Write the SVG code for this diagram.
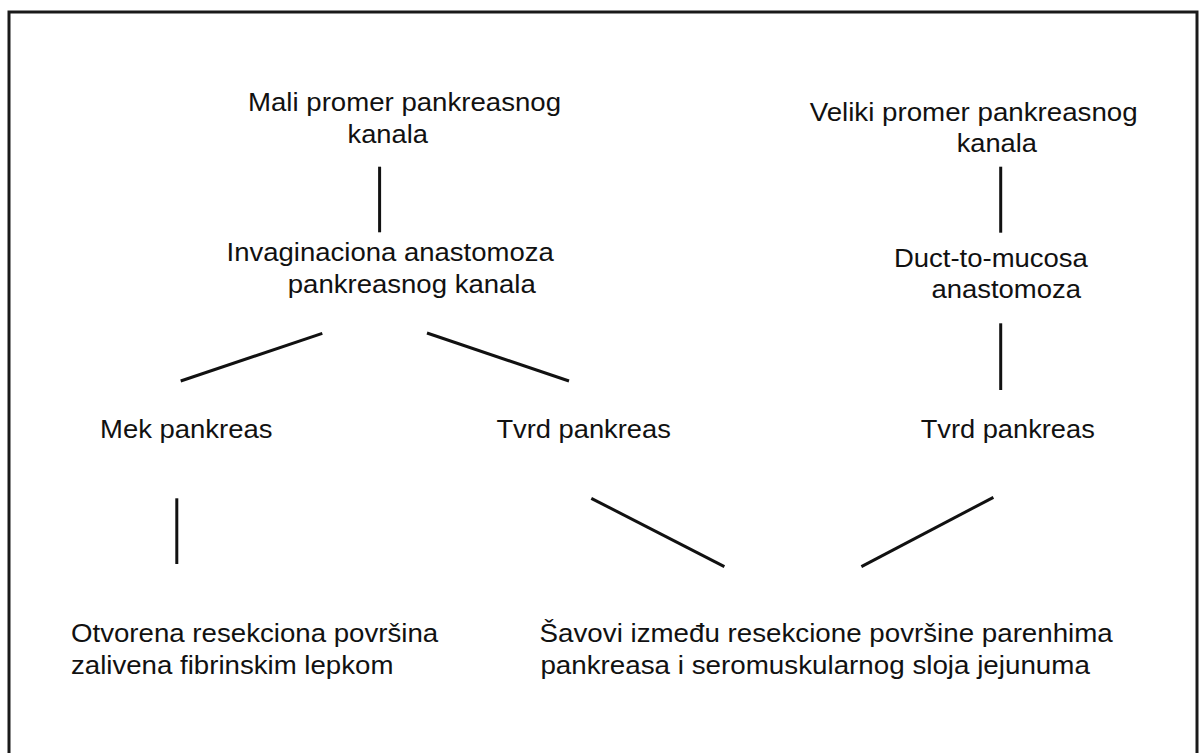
<svg xmlns="http://www.w3.org/2000/svg" width="1199" height="753" viewBox="0 0 1199 753">
<style>
.t{font-family:"Liberation Sans",Arial,sans-serif;font-size:25.5px;fill:#111;}
.c{stroke:#111;stroke-width:3;fill:none;stroke-linecap:butt;}
</style>
<rect x="0" y="0" width="1199" height="753" fill="#fff"/>
<rect id="frame" x="9" y="12" width="1188" height="800" fill="none" stroke="#1a1a1a" stroke-width="3"/>
<g id="n_mali">
<text class="t" x="248" y="111" textLength="313" lengthAdjust="spacingAndGlyphs">Mali promer pankreasnog</text>
<text class="t" x="347.5" y="143" textLength="80.4" lengthAdjust="spacingAndGlyphs">kanala</text>
</g>
<g id="n_invag">
<text class="t" x="226.6" y="261" textLength="327.2" lengthAdjust="spacingAndGlyphs">Invaginaciona anastomoza</text>
<text class="t" x="287.8" y="293.3" textLength="248" lengthAdjust="spacingAndGlyphs">pankreasnog kanala</text>
</g>
<g id="n_veliki">
<text class="t" x="809.7" y="120.7" textLength="328" lengthAdjust="spacingAndGlyphs">Veliki promer pankreasnog</text>
<text class="t" x="956.7" y="151.7" textLength="80.3" lengthAdjust="spacingAndGlyphs">kanala</text>
</g>
<g id="n_duct">
<text class="t" x="893.9" y="266.7" textLength="194" lengthAdjust="spacingAndGlyphs">Duct-to-mucosa</text>
<text class="t" x="931.4" y="297.8" textLength="149.6" lengthAdjust="spacingAndGlyphs">anastomoza</text>
</g>
<g id="n_mek">
<text class="t" x="100" y="437.5" textLength="172.5" lengthAdjust="spacingAndGlyphs">Mek pankreas</text>
</g>
<g id="n_tvrd1">
<text class="t" x="496.4" y="437.8" textLength="174.4" lengthAdjust="spacingAndGlyphs">Tvrd pankreas</text>
</g>
<g id="n_tvrd2">
<text class="t" x="920.7" y="437.8" textLength="174.1" lengthAdjust="spacingAndGlyphs">Tvrd pankreas</text>
</g>
<g id="n_otvorena">
<text class="t" x="71" y="641.5" textLength="367.2" lengthAdjust="spacingAndGlyphs">Otvorena resekciona površina</text>
<text class="t" x="71" y="673.5" textLength="322.4" lengthAdjust="spacingAndGlyphs">zalivena fibrinskim lepkom</text>
</g>
<g id="n_savovi">
<text class="t" x="539.6" y="641.5" textLength="573.2" lengthAdjust="spacingAndGlyphs">Šavovi između resekcione površine parenhima</text>
<text class="t" x="540.4" y="673.5" textLength="549.5" lengthAdjust="spacingAndGlyphs">pankreasa i seromuskularnog sloja jejunuma</text>
</g>
<g id="connectors">
<line class="c" x1="379.6" y1="166.7" x2="379.6" y2="232.3"/>
<line class="c" x1="1000.7" y1="166.7" x2="1000.7" y2="232.7"/>
<line class="c" x1="1000.7" y1="323.3" x2="1000.7" y2="390"/>
<line class="c" x1="322.3" y1="333.3" x2="180.7" y2="381"/>
<line class="c" x1="427" y1="333" x2="569" y2="381"/>
<line class="c" x1="176.8" y1="498.3" x2="176.8" y2="564"/>
<line class="c" x1="591.3" y1="498.3" x2="724.4" y2="566.7"/>
<line class="c" x1="993.4" y1="497.3" x2="861.4" y2="566.7"/>
</g>
</svg>
